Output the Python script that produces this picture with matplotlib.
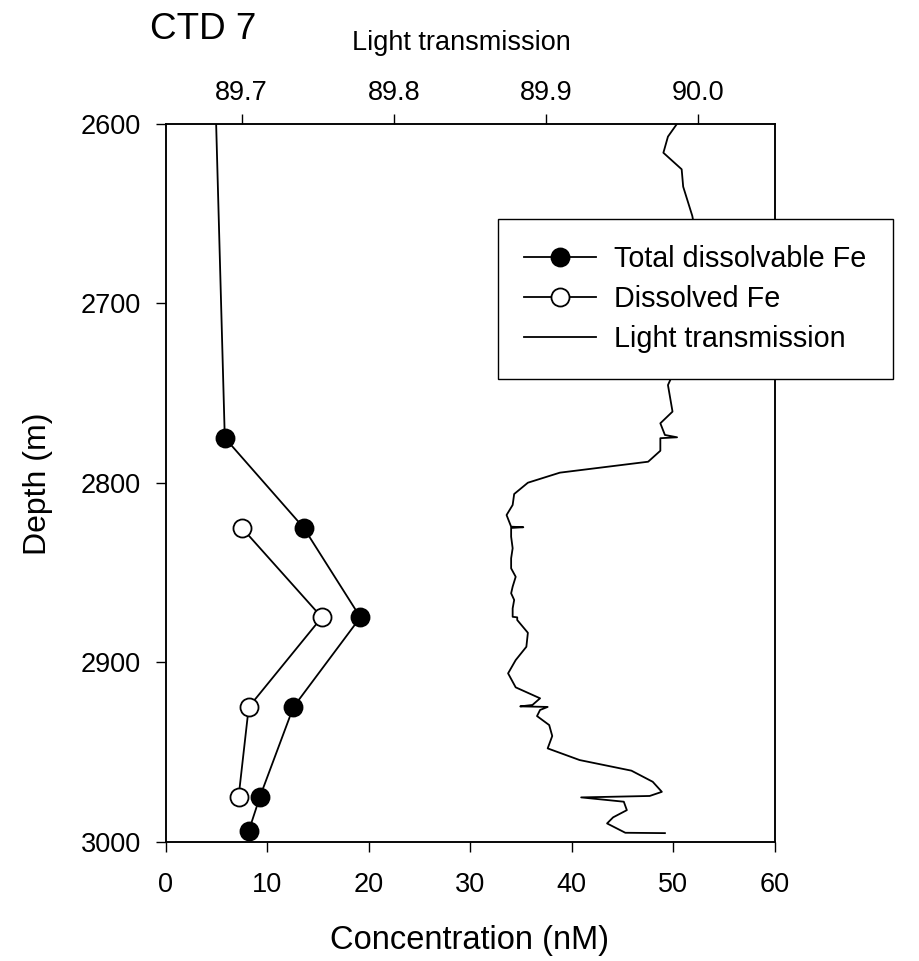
import matplotlib
matplotlib.use("Agg")
import matplotlib.pyplot as plt
from matplotlib.lines import Line2D

plt.rcParams['font.family'] = ['Liberation Sans', 'DejaVu Sans']

# ---- data ----
tfe_depth = [2500, 2775, 2825, 2875, 2925, 2975, 2994]
tfe_conc = [4.5, 5.84, 13.6, 19.2, 12.6, 9.3, 8.2]

dfe_depth = [2825, 2875, 2925, 2975]
dfe_conc = [7.5, 15.4, 8.2, 7.2]

lt_depth = [2600, 2607.2, 2616.2, 2625.4, 2635.1, 2651.4, 2670, 2698, 2720, 2740,
            2745.6, 2760.4, 2766.9, 2773.4, 2774.7, 2775.2, 2782.2, 2788.3, 2794.4, 2800,
            2806.3, 2812.4, 2818, 2824.5, 2824.8, 2825.2, 2830.1, 2836.5, 2842.1, 2847.7,
            2852.4, 2857.9, 2861.6, 2865.3, 2870, 2874.7, 2875, 2876.5, 2883.6, 2891.4,
            2898.8, 2906.2, 2914, 2920.1, 2923.8, 2924.6, 2924.9, 2926.6, 2930, 2935,
            2941.1, 2948, 2954.5, 2960.4, 2966.6, 2972.2, 2974.5, 2975.3, 2977.7, 2982.4,
            2986.4, 2989.8, 2995, 2995.2]
lt_value = [89.986, 89.980, 89.977, 89.989, 89.990, 89.996, 90.000, 90.001, 89.997, 89.983,
            89.980, 89.983, 89.975, 89.978, 89.986, 89.975, 89.975, 89.967, 89.909, 89.888,
            89.879, 89.878, 89.874, 89.877, 89.885, 89.877, 89.877, 89.878, 89.877, 89.877,
            89.880, 89.878, 89.877, 89.879, 89.878, 89.878, 89.881, 89.881, 89.888, 89.887,
            89.880, 89.875, 89.880, 89.896, 89.891, 89.883, 89.901, 89.896, 89.894, 89.902,
            89.904, 89.901, 89.922, 89.956, 89.970, 89.976, 89.968, 89.923, 89.951, 89.953,
            89.944, 89.940, 89.952, 89.978]

conc_ticks = [0, 10, 20, 30, 40, 50, 60]
lt_ticks = [89.7, 89.8, 89.9, 90.0]
lt_ticklabels = ['89.7', '89.8', '89.9', '90.0']
depth_ticks = [2600, 2700, 2800, 2900, 3000]

# ---- figure ----
fig = plt.figure(figsize=(9.19, 9.61), dpi=100)
ax = fig.add_axes([0.1801, 0.1241, 0.6627, 0.7472])

lw = 1.3
ms = 13
ax.plot(tfe_conc, tfe_depth, '-o', color='black', lw=lw, ms=ms,
        mfc='black', mec='black', mew=1.3, zorder=3)
ax.plot(dfe_conc, dfe_depth, '-o', color='black', lw=lw, ms=ms,
        mfc='white', mec='black', mew=1.3, zorder=3)
ax.set_xlim(0, 60)
ax.set_ylim(3000, 2600)
ax.set_xticks(conc_ticks)
ax.set_yticks(depth_ticks)

ax2 = ax.twiny()
ax2.plot(lt_value, lt_depth, '-', color='black', lw=lw)
ax2.set_xlim(89.65, 90.05)
ax2.set_xticks(lt_ticks)
ax2.set_xticklabels(lt_ticklabels)
ax2.set_ylim(3000, 2600)

for a in (ax, ax2):
    for s in a.spines.values():
        s.set_linewidth(1.1)

ax.tick_params(axis='x', direction='out', length=7.5, width=1.0, labelsize=19.5, pad=14.5,
               top=False)
ax.tick_params(axis='y', direction='out', length=7.5, width=1.0, labelsize=19.5, pad=10,
               right=False)
ax2.tick_params(axis='x', direction='out', length=7.5, width=1.0, labelsize=19.5, pad=5,
                bottom=False)

# texts
fig.text(150 / 919, 1 - 39 / 961, 'CTD 7', ha='left', va='baseline', fontsize=26.5)
fig.text(461 / 919, 1 - 50 / 961, 'Light transmission', ha='center', va='baseline',
         fontsize=19.5)
fig.text(38 / 919, 1 - 484 / 961, 'Depth (m)', rotation=90, ha='center', va='center',
         fontsize=23)
fig.text(469 / 919, 1 - 940 / 961, 'Concentration (nM)', ha='center', va='center',
         fontsize=23.5)

handles = [
    Line2D([], [], color='black', lw=lw, marker='o', ms=ms, mfc='black', mec='black', mew=1.3),
    Line2D([], [], color='black', lw=lw, marker='o', ms=ms, mfc='white', mec='black', mew=1.3),
    Line2D([], [], color='black', lw=lw),
]
labels = ['Total dissolvable Fe', 'Dissolved Fe', 'Light transmission']
leg = ax2.legend(handles, labels, loc='upper left',
                 bbox_to_anchor=(498 / 919, 1 - 219 / 961), bbox_transform=fig.transFigure,
                 fontsize=20.7, frameon=True, fancybox=False, shadow=False,
                 handlelength=2.5, handletextpad=0.65, labelspacing=0.42,
                 borderpad=0.9, borderaxespad=0)
leg.get_frame().set_edgecolor('black')
leg.get_frame().set_linewidth(1.0)
leg.get_frame().set_facecolor('white')
leg.get_frame().set_alpha(1)

fig.savefig('out.png', dpi=100)
